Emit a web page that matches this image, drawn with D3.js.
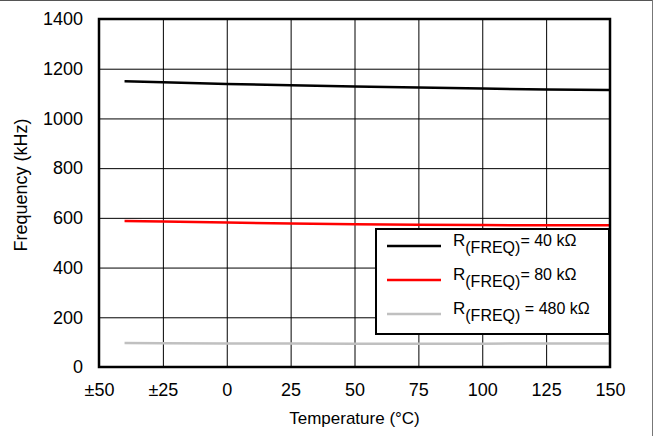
<!DOCTYPE html>
<html>
<head>
<meta charset="utf-8">
<script src="https://cdn.jsdelivr.net/npm/d3@7"></script>
<style>
    body { margin: 0; background: #fff; }
    text { font-family: "Liberation Sans", Arial, sans-serif; fill: #000; }
</style>
</head>
<body>
<div id="chart"></div>
<script>
// temperatures (°C) the curves were sampled at
var temps = [-40, -25, 0, 25, 50, 75, 100, 125, 150];

// switching frequency (kHz) for each R(FREQ)
var freq40k = [1150, 1146, 1139, 1133, 1128, 1124, 1120, 1116, 1114];
var freq80k = [587, 585, 581, 577, 574, 572, 571, 570, 570];
var freq480k = [97, 96, 95, 95, 94, 94, 94, 95, 95];

var xTicks = [-50, -25, 0, 25, 50, 75, 100, 125, 150];
var xTickLabels = ["±50", "±25", "0", "25", "50", "75", "100", "125", "150"];
var yTicks = [0, 200, 400, 600, 800, 1000, 1200, 1400];

var seriesNames = ["40 kΩ", "80 kΩ", "480 kΩ"];
var seriesColors = ["#000000", "#ff0000", "#c0c0c0"];

var W = 656, H = 436;
var margin = {top: 19, right: 46, bottom: 69, left: 99},
    width = W - margin.left - margin.right,
    height = H - margin.top - margin.bottom;

var root = d3.select("#chart")
    .append("svg")
    .attr("width", W)
    .attr("height", H);

// outer frame (only top and right edges show)
root.append("line")
    .attr("x1", 0).attr("x2", 653).attr("y1", 0.5).attr("y2", 0.5)
    .attr("stroke", "#555").attr("stroke-width", 1);
root.append("line")
    .attr("x1", 652.5).attr("x2", 652.5).attr("y1", 0).attr("y2", H)
    .attr("stroke", "#777").attr("stroke-width", 1);

var svg = root.append("g")
    .attr("transform", "translate(" + margin.left + "," + margin.top + ")");

var xScale = d3.scaleLinear().domain([-50, 150]).range([0, width]);
var yScale = d3.scaleLinear().domain([0, 1400]).range([height, 0]);

// grid
svg.append("g")
    .attr("class", "x-grid")
    .attr("transform", "translate(0," + height + ")")
    .call(d3.axisBottom(xScale).tickValues(xTicks).tickSize(-height).tickFormat(""))
    .call(function(g) {
        g.select(".domain").remove();
        g.selectAll("line").attr("stroke", "#000").attr("stroke-width", 1);
    });

svg.append("g")
    .attr("class", "y-grid")
    .call(d3.axisLeft(yScale).tickValues(yTicks).tickSize(-width).tickFormat(""))
    .call(function(g) {
        g.select(".domain").remove();
        g.selectAll("line").attr("stroke", "#000").attr("stroke-width", 1);
    });

// tick labels
svg.append("g")
    .attr("class", "x-axis")
    .attr("transform", "translate(0," + height + ")")
    .call(d3.axisBottom(xScale).tickValues(xTicks).tickSize(0).tickPadding(16)
        .tickFormat(function(d, i) { return xTickLabels[i]; }))
    .call(function(g) {
        g.select(".domain").remove();
        g.selectAll("text").style("font-size", "18px").style("font-family", "Liberation Sans, Arial, sans-serif");
    });

svg.append("g")
    .attr("class", "y-axis")
    .call(d3.axisLeft(yScale).tickValues(yTicks).tickSize(0).tickPadding(16)
        .tickFormat(d3.format("d")))
    .call(function(g) {
        g.select(".domain").remove();
        g.selectAll("text").style("font-size", "18px").style("font-family", "Liberation Sans, Arial, sans-serif");
    });

// lines
var line = d3.line()
    .x(function(d) { return xScale(d[0]); })
    .y(function(d) { return yScale(d[1]); });

[freq40k, freq80k, freq480k].forEach(function(vals, i) {
    svg.append("path")
        .datum(temps.map(function(t, j) { return [t, vals[j]]; }))
        .attr("fill", "none")
        .attr("stroke", seriesColors[i])
        .attr("stroke-width", 2.5)
        .attr("d", line);
});

// plot border
svg.append("rect")
    .attr("width", width).attr("height", height)
    .attr("fill", "none")
    .attr("stroke", "#000")
    .attr("stroke-width", 2.5);

// legend
var legend = svg.append("g")
    .attr("transform", "translate(" + (376 - margin.left) + "," + (229 - margin.top) + ")");

legend.append("rect")
    .attr("width", 233).attr("height", 105)
    .attr("fill", "#fff")
    .attr("stroke", "#000")
    .attr("stroke-width", 2);

seriesNames.forEach(function(name, i) {
    var yy = 17 + i * 34;
    legend.append("line")
        .attr("x1", 11).attr("x2", 65)
        .attr("y1", yy).attr("y2", yy)
        .attr("stroke", seriesColors[i])
        .attr("stroke-width", 2.5);
    var t = legend.append("text")
        .attr("x", 77).attr("y", yy)
        .style("font-size", "17px");
    t.append("tspan").text("R");
    t.append("tspan").attr("dy", 7).style("font-size", "16px").text("(FREQ)");
    t.append("tspan").attr("dy", -7).style("font-size", "16px").text((i === 2 ? " = " : "= ") + name);
});

// axis titles
root.append("text")
    .attr("x", margin.left + width / 2)
    .attr("y", 424)
    .attr("text-anchor", "middle")
    .style("font-size", "17px")
    .text("Temperature (°C)");

root.append("text")
    .attr("transform", "translate(27,185) rotate(-90)")
    .attr("text-anchor", "middle")
    .style("font-size", "18px")
    .text("Frequency (kHz)");
</script>
</body>
</html>
